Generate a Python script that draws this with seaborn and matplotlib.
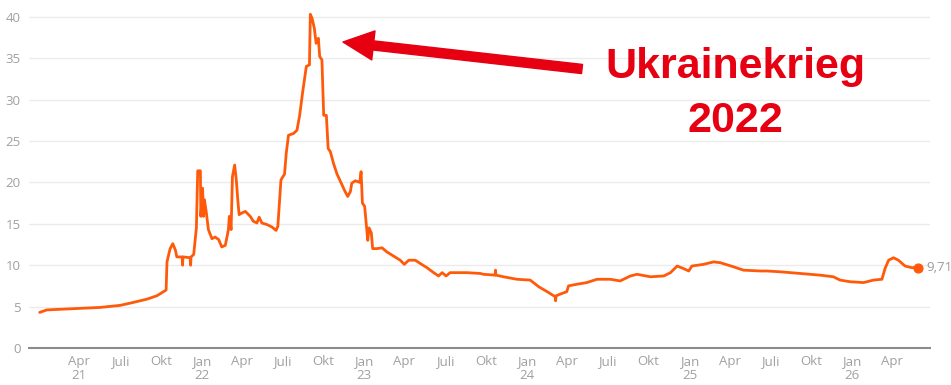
import pandas as pd
import matplotlib.pyplot as plt
import seaborn as sns

# Price series (weekly-ish samples)
dates = [
    '2021-01-02', '2021-01-18', '2021-05-18', '2021-07-02', '2021-07-31', '2021-08-31',
    '2021-09-22', '2021-10-13', '2021-10-15', '2021-10-22', '2021-10-28', '2021-11-03',
    '2021-11-06', '2021-11-18', '2021-11-19', '2021-11-20', '2021-12-06', '2021-12-07',
    '2021-12-08', '2021-12-14', '2021-12-20', '2021-12-23', '2021-12-29', '2021-12-30',
    '2022-01-03', '2022-01-05', '2022-01-07', '2022-01-11', '2022-01-16', '2022-01-24',
    '2022-01-31', '2022-02-08', '2022-02-15', '2022-02-23', '2022-03-02', '2022-03-04',
    '2022-03-08', '2022-03-11', '2022-03-16', '2022-03-20', '2022-03-23', '2022-03-26',
    '2022-04-01', '2022-04-09', '2022-04-20', '2022-04-27', '2022-05-05', '2022-05-10',
    '2022-05-16', '2022-05-28', '2022-06-08', '2022-06-17', '2022-06-21', '2022-06-25',
    '2022-06-28', '2022-07-06', '2022-07-10', '2022-07-15', '2022-07-26', '2022-08-03',
    '2022-08-09', '2022-08-16', '2022-08-24', '2022-08-31', '2022-09-02', '2022-09-06',
    '2022-09-11', '2022-09-15', '2022-09-20', '2022-09-23', '2022-09-28', '2022-10-02',
    '2022-10-08', '2022-10-12', '2022-10-17', '2022-10-24', '2022-11-01', '2022-11-12',
    '2022-11-19', '2022-11-25', '2022-12-01', '2022-12-04', '2022-12-12', '2022-12-22',
    '2022-12-25', '2022-12-28', '2023-01-02', '2023-01-06', '2023-01-09', '2023-01-12',
    '2023-01-17', '2023-01-20', '2023-01-30', '2023-02-10', '2023-02-21', '2023-03-08',
    '2023-03-23', '2023-04-01', '2023-04-11', '2023-04-26', '2023-05-07', '2023-05-22',
    '2023-06-06', '2023-06-17', '2023-06-25', '2023-07-04', '2023-07-13', '2023-08-12',
    '2023-08-20', '2023-09-19', '2023-09-26', '2023-10-22', '2023-10-23', '2023-10-24',
    '2023-11-10', '2023-12-10', '2024-01-09', '2024-01-28', '2024-02-16', '2024-03-05',
    '2024-03-06', '2024-03-07', '2024-03-16', '2024-03-31', '2024-04-04', '2024-04-23',
    '2024-05-15', '2024-06-07', '2024-07-07', '2024-07-29', '2024-08-21', '2024-09-05',
    '2024-10-05', '2024-11-04', '2024-11-19', '2024-12-04', '2024-12-18', '2024-12-30',
    '2025-01-06', '2025-02-01', '2025-02-24', '2025-03-11', '2025-04-10', '2025-05-02',
    '2025-06-09', '2025-06-24', '2025-07-24', '2025-09-06', '2025-10-21', '2025-11-20',
    '2025-12-05', '2025-12-28', '2026-01-27', '2026-02-18', '2026-03-09', '2026-03-16',
    '2026-03-24', '2026-04-04', '2026-04-15', '2026-04-30', '2026-05-15', '2026-05-30',
]
values = [
    4.3, 4.6, 4.9, 5.15, 5.5, 5.9,
    6.3, 7.0, 10.4, 12.0, 12.6, 11.8,
    11.0, 11.0, 10.0, 11.0, 10.9, 10.0,
    11.0, 11.3, 14.5, 21.4, 21.4, 15.9,
    19.3, 15.9, 17.9, 16.5, 14.3, 13.2,
    13.4, 13.1, 12.2, 12.4, 14.3, 15.9,
    14.3, 20.7, 22.1, 20.1, 17.9, 16.1,
    16.3, 16.5, 15.9, 15.3, 15.1, 15.8,
    15.1, 14.9, 14.6, 14.2, 14.7, 17.9,
    20.3, 21.0, 23.6, 25.7, 25.9, 26.3,
    28.1, 31.0, 34.0, 34.2, 40.3, 39.8,
    38.6, 36.8, 37.4, 35.2, 34.8, 28.1,
    28.1, 24.1, 23.7, 22.3, 21.0, 19.7,
    18.9, 18.3, 18.9, 19.9, 20.2, 20.0,
    21.3, 17.5, 17.1, 14.7, 13.0, 14.5,
    13.9, 12.0, 12.0, 12.1, 11.6, 11.1,
    10.6, 10.1, 10.6, 10.6, 10.2, 9.7,
    9.1, 8.7, 9.1, 8.7, 9.1, 9.1,
    9.1, 9.0, 8.9, 8.8, 9.4, 8.8,
    8.6, 8.3, 8.2, 7.4, 6.8, 6.2,
    5.7, 6.3, 6.5, 6.8, 7.5, 7.7,
    7.9, 8.3, 8.3, 8.1, 8.7, 8.9,
    8.6, 8.7, 9.1, 9.9, 9.6, 9.3,
    9.9, 10.1, 10.4, 10.3, 9.8, 9.4,
    9.3, 9.3, 9.2, 9.0, 8.8, 8.6,
    8.2, 8.0, 7.9, 8.2, 8.3, 9.6,
    10.6, 10.9, 10.6, 9.9, 9.7, 9.71,
]

# x axis ticks: quarter starts
tick_dates = pd.date_range('2021-04-01', '2026-04-01', freq='QS-JAN')
month_names = {1: 'Jan', 4: 'Apr', 7: 'Juli', 10: 'Okt'}

annotation_lines = ['Ukrainekrieg', '2022']
last_label = '9,71'

df = pd.DataFrame({'Datum': pd.to_datetime(dates), 'Preis': values})

sns.set_style('white')
plt.rcParams['font.family'] = ['Open Sans', 'DejaVu Sans']

W, H = 951, 385
fig = plt.figure(figsize=(W / 100, H / 100), dpi=100)
ax = fig.add_axes([29 / W, (H - 348) / H, (930 - 29) / W, (348 - 8.5) / H])

line_color = '#ff5a0a'
sns.lineplot(data=df, x='Datum', y='Preis', ax=ax, color=line_color, linewidth=2)

# end point marker and label
last = df.iloc[-1]
ax.scatter([last['Datum']], [last['Preis']], s=40, color=line_color, zorder=5)
ax.annotate(last_label, xy=(last['Datum'], last['Preis']), xytext=(6, 0),
            textcoords='offset points', va='center', ha='left',
            fontsize=9.5, color='#9a9a9a', annotation_clip=False)

ax.set_xlim(pd.Timestamp('2020-12-09'), pd.Timestamp('2026-06-25'))
ax.set_ylim(0, 41)
ax.set_yticks(range(0, 41, 5))
ax.set_yticklabels([str(v) for v in range(0, 41, 5)])

labels = []
for i, d in enumerate(tick_dates):
    name = month_names[d.month]
    if d.month == 1 or i == 0:
        labels.append(f'{name}\n{d.year % 100:02d}')
    else:
        labels.append(name)
ax.set_xticks(tick_dates)
ax.set_xticklabels(labels, linespacing=1.15)

ax.tick_params(axis='both', length=0, labelsize=9.5, labelcolor='#a0a0a0')
ax.tick_params(axis='y', pad=6)
ax.tick_params(axis='x', pad=5)

ax.grid(axis='y', color='#ebebeb', linewidth=1)
ax.set_axisbelow(True)
for side in ['top', 'right', 'left']:
    ax.spines[side].set_visible(False)
ax.spines['bottom'].set_color('#8c8c8c')
ax.spines['bottom'].set_linewidth(1.5)
ax.set_xlabel('')
ax.set_ylabel('')


# red arrow and annotation text (figure pixel positions)
def fpix(x, y):
    return (x / W, 1 - y / H)


red = '#e60012'
ax.annotate('', xy=fpix(343, 42), xycoords='figure fraction',
            xytext=fpix(582, 69), textcoords='figure fraction',
            arrowprops=dict(arrowstyle='simple,head_length=1.1,head_width=1.05,tail_width=0.33',
                            color=red, mutation_scale=20, shrinkA=0, shrinkB=0))
for text, base_y in zip(annotation_lines, [78, 132]):
    fig.text(*fpix(735, base_y), text, ha='center', va='baseline',
             fontsize=31, fontweight='bold', color=red,
             family=['Liberation Sans', 'DejaVu Sans'])

fig.savefig('out.png', dpi=100)
